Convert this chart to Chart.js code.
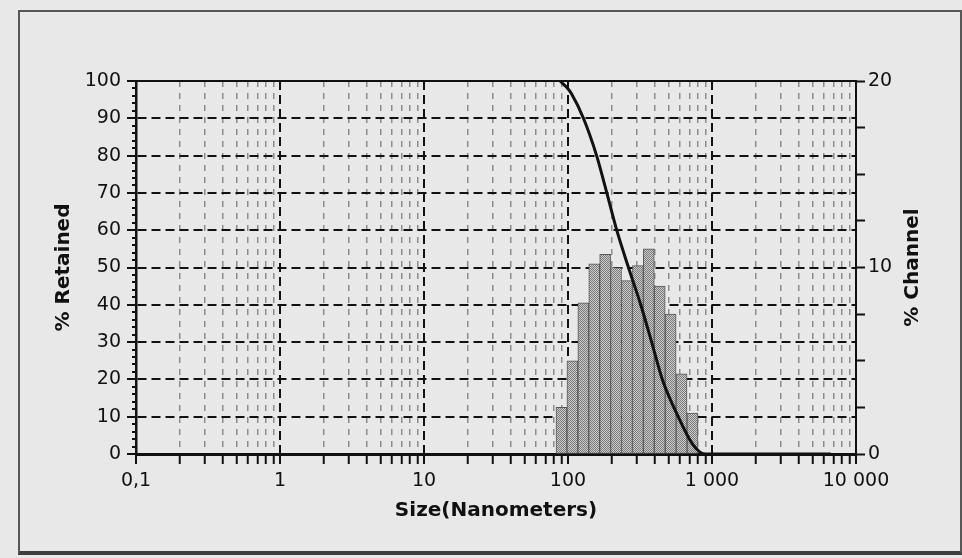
<!DOCTYPE html>
<html>
<head>
<meta charset="utf-8">
<script src="https://cdn.jsdelivr.net/npm/chart.js@4.4.0/dist/chart.umd.min.js"></script>
<style>
  html, body { margin: 0; padding: 0; background: #e8e8e8; }
  body { width: 962px; height: 558px; position: relative; overflow: hidden; }
  #cadre { position: absolute; left: 18px; top: 10px; width: 944px; height: 545px; box-sizing: border-box;
           border: 2px solid #575757; border-bottom: 4px solid #3c3c3c; }
  #zone { position: absolute; left: 0; top: 0; width: 962px; height: 558px; }
</style>
</head>
<body>
<div id="cadre"></div>
<div id="zone"><canvas id="graf"></canvas></div>
<script>
// Données
const xDecades     = [0.1, 1, 10, 100, 1000, 10000];
const xLabels      = ['0,1', '1', '10', '100', '1 000', '10 000'];
const yLeftLabels  = [0, 10, 20, 30, 40, 50, 60, 70, 80, 90, 100];
const yRightLabels = [0, 10, 20];

// Histogramme (% Channel) : centres des classes en nm
const binCenters = [90.1, 107.3, 127.8, 152.1, 181.1, 215.7, 256.8, 305.8, 364.1, 433.6, 516.3, 614.9, 732.1];
const channelPct = [2.5, 5.0, 8.1, 10.2, 10.7, 10.0, 9.3, 10.1, 11.0, 9.0, 7.5, 4.3, 2.2];

// Courbe cumulée (% Retained)
const sizeNm      = [88, 98, 106, 128, 158, 186, 218, 263, 320, 381, 452, 583, 723, 825, 908, 6700];
const retainedPct = [100, 98.3, 96.5, 90, 80, 70, 60, 50, 40, 30, 20, 10, 3, 0.5, 0, 0];

const police = { family: 'DejaVu Sans', size: 19 };
const policeTitre = { family: 'DejaVu Sans', size: 20, weight: 'bold' };

const contexte = document.getElementById('graf').getContext('2d');

// Motif damier des barres
const motif = document.createElement('canvas');
motif.width = 2; motif.height = 2;
const m = motif.getContext('2d');
m.fillStyle = '#cacaca'; m.fillRect(0, 0, 2, 2);
m.fillStyle = '#7c7c7c'; m.fillRect(0, 0, 1, 1); m.fillRect(1, 1, 1, 1);
const remplissage = contexte.createPattern(motif, 'repeat');

const estDecade = v => xDecades.some(d => Math.abs(Math.log10(v) - Math.log10(d)) < 1e-6);

// Cadre du tracé + titre de droite (lu de bas en haut)
const cadrePlugin = {
  id: 'cadrePlugin',
  afterDatasetsDraw(chart) {
    const { ctx, chartArea } = chart;
    ctx.save();
    ctx.strokeStyle = '#111';
    ctx.lineWidth = 2;
    ctx.beginPath();
    ctx.moveTo(chartArea.left, chartArea.top);
    ctx.lineTo(chartArea.right, chartArea.top);
    ctx.stroke();
    ctx.restore();
  },
  afterDraw(chart) {
    const { ctx, chartArea } = chart;
    ctx.save();
    ctx.translate(913, (chartArea.top + chartArea.bottom) / 2);
    ctx.rotate(-Math.PI / 2);
    ctx.font = 'bold 20px "DejaVu Sans"';
    ctx.fillStyle = '#111';
    ctx.textAlign = 'center';
    ctx.textBaseline = 'middle';
    ctx.fillText('% Channel', 0, 0);
    ctx.restore();
  }
};

new Chart(contexte, {
  type: 'line',
  data: {
    datasets: [
      {
        type: 'line',
        label: '% Retained',
        data: sizeNm.map((x, i) => ({ x: x, y: retainedPct[i] })),
        xAxisID: 'x',
        yAxisID: 'y',
        borderColor: '#111',
        borderWidth: 3,
        pointRadius: 0,
        cubicInterpolationMode: 'monotone',
        fill: false,
        order: 0
      },
      {
        type: 'bar',
        label: '% Channel',
        data: binCenters.map((x, i) => ({ x: x, y: channelPct[i] })),
        xAxisID: 'x',
        yAxisID: 'y1',
        backgroundColor: remplissage,
        borderColor: '#5a5a5a',
        borderWidth: 1,
        borderSkipped: false,
        barThickness: 'flex',   // largeur = écart entre classes voisines
        barPercentage: 1,
        categoryPercentage: 1,
        order: 1
      }
    ]
  },
  options: {
    responsive: true,
    maintainAspectRatio: false,
    animation: false,
    layout: { padding: { top: 81, left: 0, right: 0, bottom: 0 } },
    plugins: { legend: { display: false }, tooltip: { enabled: false } },
    scales: {
      x: {
        type: 'logarithmic', position: 'bottom', min: 0.1, max: 10000, offset: false,
        afterBuildTicks: s => {
          const t = [];
          xDecades.forEach((d, i) => {
            t.push({ value: d });
            if (i < xDecades.length - 1) for (let k = 2; k <= 9; k++) t.push({ value: d * k });
          });
          s.ticks = t;
        },
        afterFit: s => { s.height = 104; },
        ticks: {
          autoSkip: false, maxRotation: 0, padding: 6, color: '#111', font: police,
          callback: v => {
            const i = xDecades.findIndex(d => Math.abs(d - v) < d * 1e-6);
            return i >= 0 ? xLabels[i] : '';
          }
        },
        grid: {
          offset: false,
          color: c => (c.tick && estDecade(c.tick.value)) ? '#111' : '#8c8c8c',
          lineWidth: c => (c.tick && estDecade(c.tick.value)) ? 2 : 1.5,
          tickColor: '#111', tickWidth: 2, tickLength: 10
        },
        border: {
          color: '#111', width: 3,
          dash: c => c.tick ? (estDecade(c.tick.value) ? [9, 5] : [6, 6]) : []
        },
        title: { display: true, text: 'Size(Nanometers)', color: '#111', font: policeTitre, padding: { top: 0, bottom: 35 } }
      },
      y: {
        type: 'linear', position: 'left', min: 0, max: 100,
        afterFit: s => { s.width = 136; },
        ticks: {
          stepSize: 2, autoSkip: false, padding: 6, color: '#111', font: police,
          callback: v => yLeftLabels.includes(v) ? String(v) : ''
        },
        grid: {
          color: c => (c.tick && yLeftLabels.includes(c.tick.value)) ? '#111' : 'rgba(0,0,0,0)',
          lineWidth: 2,
          tickColor: '#111', tickWidth: 2, tickLength: 9,
          tickBorderDash: c => (c.tick && yLeftLabels.includes(c.tick.value)) ? [] : [0, 5, 20]
        },
        border: { color: '#111', width: 2.5, dash: c => c.tick ? [9, 5] : [] },
        title: { display: true, text: '% Retained', color: '#111', font: policeTitre, padding: { top: 52, bottom: 0 } }
      },
      y1: {
        type: 'linear', position: 'right', min: 0, max: 20,
        afterFit: s => { s.width = 106; },
        ticks: {
          stepSize: 2.5, autoSkip: false, padding: 3, color: '#111', font: police,
          callback: v => yRightLabels.includes(v) ? String(v) : ''
        },
        grid: { drawOnChartArea: false, tickColor: '#111', tickWidth: 2, tickLength: 9 },
        border: { color: '#111', width: 2 }
      }
    }
  },
  plugins: [cadrePlugin]
});
</script>
</body>
</html>
